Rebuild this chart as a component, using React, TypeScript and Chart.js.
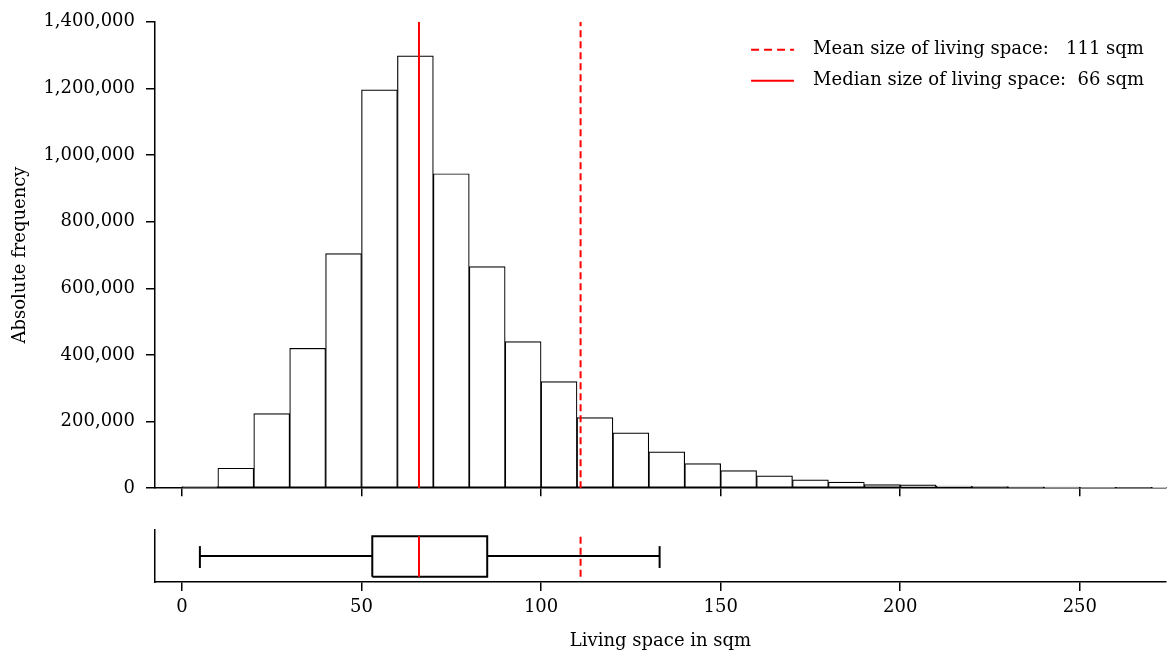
import React, { useEffect, useRef } from "react";
import { Chart, registerables } from "chart.js";

Chart.register(...registerables);

// ---- data ----
const binStarts: number[] = [0, 10, 20, 30, 40, 50, 60, 70, 80, 90, 100, 110, 120, 130, 140, 150, 160, 170, 180, 190, 200, 210, 220, 230, 240, 250, 260, 270];
const binCounts: number[] = [5000, 60000, 224000, 420000, 704000, 1196000, 1298000, 944000, 665000, 440000, 320000, 212000, 166000, 109000, 74000, 53000, 37000, 25000, 18000, 11000, 10000, 6500, 5000, 4000, 3000, 2500, 2000, 1500];
const binWidth = 10;
const xTickValues: number[] = [0, 50, 100, 150, 200, 250];
const yTickStep = 200000;
const yMax = 1400000;
const xMin = -7.5;
const xMax = 274;

const meanValue = 111;
const medianValue = 66;
const whiskerLow = 5;
const q1 = 53;
const q3 = 85;
const whiskerHigh = 133;

const meanLabel = "Mean size of living space:   111 sqm";
const medianLabel = "Median size of living space:  66 sqm";
const xTitle = "Living space in sqm";
const yTitle = "Absolute frequency";

const FONT = "'DejaVu Serif', serif";
const FS = 18;

export default function App() {
  const topRef = useRef<HTMLCanvasElement | null>(null);
  const botRef = useRef<HTMLCanvasElement | null>(null);

  useEffect(() => {
    Chart.defaults.font.family = FONT;
    Chart.defaults.font.size = FS;
    Chart.defaults.color = "#000";

    const legendPlugin = {
      id: "customLegend",
      afterDraw(chart: any) {
        const ctx = chart.ctx;
        const area = chart.chartArea;
        ctx.save();
        ctx.font = `${FS}px ${FONT}`;
        ctx.fillStyle = "#000";
        ctx.textBaseline = "middle";
        ctx.textAlign = "left";
        const w = Math.max(ctx.measureText(meanLabel).width, ctx.measureText(medianLabel).width);
        const textLeft = area.right - 20 - w;
        const items = [
          { label: meanLabel, dash: [8, 5], y: area.top + 28 },
          { label: medianLabel, dash: [], y: area.top + 59 },
        ];
        for (const it of items) {
          ctx.strokeStyle = "#ff0000";
          ctx.lineWidth = 2;
          ctx.setLineDash(it.dash);
          ctx.beginPath();
          ctx.moveTo(textLeft - 64, it.y);
          ctx.lineTo(textLeft - 21, it.y);
          ctx.stroke();
          ctx.setLineDash([]);
          ctx.fillText(it.label, textLeft - 2, it.y);
        }
        ctx.restore();
      },
    };

    const xTicksFn = (s: any) => {
      s.ticks = xTickValues.map((v) => ({ value: v }));
    };

    const top = new Chart(topRef.current as HTMLCanvasElement, {
      type: "bar",
      data: {
        datasets: [
          {
            type: "line",
            data: [{ x: medianValue, y: 0 }, { x: medianValue, y: yMax }],
            borderColor: "#ff0000",
            borderWidth: 2,
            pointRadius: 0,
          } as any,
          {
            type: "line",
            data: [{ x: meanValue, y: 0 }, { x: meanValue, y: yMax }],
            borderColor: "#ff0000",
            borderWidth: 2,
            borderDash: [7, 4],
            pointRadius: 0,
          } as any,
          {
            type: "bar",
            data: binStarts.map((s, i) => ({ x: s + binWidth / 2, y: binCounts[i] })),
            backgroundColor: "#ffffff",
            borderColor: "#000000",
            borderWidth: 1.2,
            borderSkipped: false,
            barPercentage: 1,
            categoryPercentage: 1,
          } as any,
        ],
      },
      options: {
        responsive: false,
        animation: false,
        layout: { padding: { top: 20, right: 2, left: 0, bottom: 0 } },
        plugins: { legend: { display: false }, tooltip: { enabled: false } },
        scales: {
          x: {
            type: "linear",
            min: xMin,
            max: xMax,
            offset: false,
            afterBuildTicks: xTicksFn,
            afterFit: (s: any) => {
              s.height = 13;
            },
            ticks: { display: false },
            grid: { display: true, offset: false, drawOnChartArea: false, drawTicks: true, tickLength: 8, color: "#000", lineWidth: 1.5 },
            border: { display: true, color: "#000", width: 1.5 },
          },
          y: {
            type: "linear",
            min: 0,
            max: yMax,
            ticks: {
              stepSize: yTickStep,
              padding: 11,
              callback: (v: any) => Number(v).toLocaleString("en-US"),
            },
            afterFit: (s: any) => {
              s.width = 155;
            },
            title: { display: true, text: yTitle, padding: { top: 10, bottom: 0 } },
            grid: { display: true, drawOnChartArea: false, drawTicks: true, tickLength: 9, color: "#000", lineWidth: 1.5 },
            border: { display: true, color: "#000", width: 1.5 },
          },
        },
      } as any,
      plugins: [legendPlugin],
    });

    const seg = (pts: { x: number; y: number }[], color: string, dash: number[] = []) =>
      ({
        type: "line",
        data: pts,
        borderColor: color,
        borderWidth: 2,
        borderDash: dash,
        pointRadius: 0,
        tension: 0,
      } as any);

    const bot = new Chart(botRef.current as HTMLCanvasElement, {
      type: "line",
      data: {
        datasets: [
          seg([{ x: medianValue, y: 0.1 }, { x: medianValue, y: 0.88 }], "#ff0000"),
          seg([{ x: meanValue, y: 0.1 }, { x: meanValue, y: 0.88 }], "#ff0000", [7, 4]),
          seg(
            [
              { x: q1, y: 0.1 },
              { x: q3, y: 0.1 },
              { x: q3, y: 0.88 },
              { x: q1, y: 0.88 },
              { x: q1, y: 0.1 },
            ],
            "#000"
          ),
          seg([{ x: whiskerLow, y: 0.5 }, { x: q1, y: 0.5 }], "#000"),
          seg([{ x: q3, y: 0.5 }, { x: whiskerHigh, y: 0.5 }], "#000"),
          seg([{ x: whiskerLow, y: 0.27 }, { x: whiskerLow, y: 0.69 }], "#000"),
          seg([{ x: whiskerHigh, y: 0.27 }, { x: whiskerHigh, y: 0.69 }], "#000"),
        ],
      },
      options: {
        responsive: false,
        animation: false,
        layout: { padding: { top: 30, right: 2, left: 0, bottom: 0 } },
        plugins: { legend: { display: false }, tooltip: { enabled: false } },
        scales: {
          x: {
            type: "linear",
            min: xMin,
            max: xMax,
            offset: false,
            afterBuildTicks: xTicksFn,
            afterFit: (s: any) => {
              s.height = 70;
            },
            ticks: { padding: 6, maxRotation: 0 },
            title: { display: true, text: xTitle, padding: { top: 1, bottom: 0 } },
            grid: { display: true, drawOnChartArea: false, drawTicks: true, tickLength: 9, color: "#000", lineWidth: 1.5 },
            border: { display: true, color: "#000", width: 1.5 },
          },
          y: {
            type: "linear",
            min: 0,
            max: 1,
            ticks: { display: false },
            afterFit: (s: any) => {
              s.width = 155;
            },
            grid: { display: true, drawOnChartArea: false, drawTicks: false },
            border: { display: true, color: "#000", width: 1.5 },
          },
        },
      } as any,
    });

    return () => {
      top.destroy();
      bot.destroy();
    };
  }, []);

  return (
    <div style={{ position: "fixed", left: 0, top: 0, width: 1168, height: 652, background: "#fff" }}>
      <canvas ref={topRef} width={1168} height={510} style={{ position: "absolute", left: 0, top: 0, width: 1168, height: 510 }} />
      <canvas ref={botRef} width={1168} height={152} style={{ position: "absolute", left: 0, top: 500, width: 1168, height: 152 }} />
    </div>
  );
}
